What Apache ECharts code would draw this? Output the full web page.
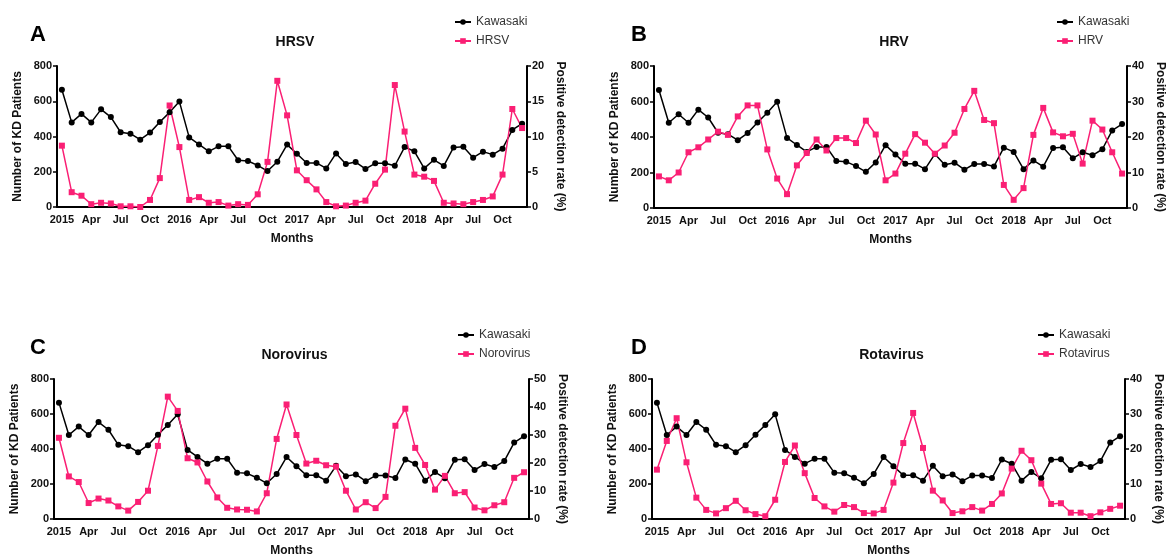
<!DOCTYPE html>
<html lang="en">

<head>
    <meta charset="UTF-8">
    <title>KD vs viruses</title>
    <script src="https://cdn.jsdelivr.net/npm/echarts@6/dist/echarts.min.js"></script>
    <style>
        body,
        html {
            background-color: #fff;
            width: 100%;
            height: 100%;
            margin: 0;
        }
    </style>
</head>

<body>
    <div id="main" style="width: 1167px; height: 558px;"></div>
    <script>
        // x 轴月份
        var years = ['2015', '2016', '2017', '2018'];
        var monthNames = ['Jan', 'Feb', 'Mar', 'Apr', 'May', 'Jun', 'Jul', 'Aug', 'Sep', 'Oct', 'Nov', 'Dec'];
        var months = [];
        years.forEach(function (y) {
            monthNames.forEach(function (m, i) { months.push(i == 0 ? y : m); });
        });

        // 川崎病人数（四个图相同）
        var kawasaki = [665, 480, 528, 480, 554, 510, 424, 416, 382, 422, 482, 537,
            598, 395, 355, 316, 344, 344, 265, 261, 236, 204, 257, 354,
            302, 250, 250, 219, 304, 244, 255, 216, 248, 248, 234, 340,
            316, 219, 268, 233, 338, 342, 280, 314, 297, 331, 437, 473];
        // 阳性检出率 (%)
        var hrsv = [8.7, 2.1, 1.6, 0.4, 0.6, 0.5, 0.1, 0.1, 0.0, 1.0, 4.1, 14.4,
            8.5, 1.0, 1.4, 0.6, 0.7, 0.2, 0.4, 0.3, 1.8, 6.4, 17.9, 13.0,
            5.2, 3.8, 2.5, 0.7, 0.1, 0.2, 0.6, 0.9, 3.3, 5.3, 17.3, 10.7,
            4.6, 4.3, 3.7, 0.6, 0.5, 0.4, 0.7, 1.0, 1.5, 4.6, 13.9, 11.2];
        var hrv = [8.9, 7.8, 10.0, 15.7, 17.1, 19.3, 21.5, 20.6, 25.8, 28.9, 28.9, 16.5,
            8.3, 3.9, 12.0, 15.5, 19.3, 16.2, 19.7, 19.7, 18.3, 24.6, 20.7, 7.8,
            9.7, 15.3, 20.8, 18.4, 15.3, 17.6, 21.2, 27.9, 33.0, 24.8, 23.9, 6.5,
            2.3, 5.6, 20.6, 28.2, 21.3, 20.2, 20.9, 12.5, 24.6, 22.1, 15.7, 9.7];
        var norovirus = [29.0, 15.2, 13.2, 5.7, 7.3, 6.6, 4.5, 3.0, 6.1, 10.1, 26.1, 43.7,
            38.6, 21.7, 20.2, 13.4, 7.7, 4.0, 3.4, 3.3, 2.7, 9.2, 28.6, 40.9,
            30.0, 19.8, 20.8, 19.2, 18.7, 10.1, 3.4, 6.0, 3.9, 7.9, 33.3, 39.4,
            25.4, 19.3, 10.5, 15.4, 9.2, 9.6, 4.1, 3.1, 4.9, 6.0, 14.7, 16.7];
        var rotavirus = [14.1, 22.3, 28.8, 16.2, 6.1, 2.6, 1.6, 3.1, 5.2, 2.5, 1.4, 0.8,
            5.5, 16.3, 21.0, 13.1, 6.0, 3.6, 2.1, 4.0, 3.4, 1.7, 1.6, 2.6,
            10.4, 21.7, 30.3, 20.3, 8.1, 5.3, 1.7, 2.2, 3.4, 2.4, 4.3, 7.3,
            14.4, 19.5, 16.8, 10.1, 4.3, 4.5, 1.8, 1.8, 0.8, 1.9, 2.9, 3.8];

        var pink = '#fa1f74';
        var panels = [
            { letter: 'A', name: 'HRSV', data: hrsv, max: 20, step: 5, grid: { left: 57, top: 66, width: 470, height: 141 }, legend: [454, 15] },
            { letter: 'B', name: 'HRV', data: hrv, max: 40, step: 10, grid: { left: 654, top: 66, width: 474, height: 142 }, legend: [1056, 15] },
            { letter: 'C', name: 'Norovirus', data: norovirus, max: 50, step: 10, grid: { left: 54, top: 379, width: 475, height: 143 }, legend: [457, 328] },
            { letter: 'D', name: 'Rotavirus', data: rotavirus, max: 40, step: 10, grid: { left: 652, top: 379, width: 473, height: 143 }, legend: [1037, 328] }
        ];

        var axisLine = { lineStyle: { color: '#000', width: 2 } };
        var axisTick = { length: 4, lineStyle: { color: '#000', width: 1.5 } };
        var labelFont = { color: '#111', fontWeight: 'bold', fontSize: 11, fontFamily: 'Liberation Sans' };
        var nameFont = { color: '#111', fontWeight: 'bold', fontSize: 12, fontFamily: 'Liberation Sans' };

        var option = { animation: false, grid: [], xAxis: [], yAxis: [], series: [], legend: [], graphic: [] };
        panels.forEach(function (p, i) {
            option.grid.push(p.grid);
            option.xAxis.push({
                type: 'category', gridIndex: i, data: months, boundaryGap: true,
                name: 'Months', nameLocation: 'middle', nameGap: 26, nameTextStyle: nameFont,
                axisLine: axisLine,
                axisTick: Object.assign({ alignWithLabel: true, interval: 2 }, axisTick),
                axisLabel: Object.assign({ interval: 2, margin: 7 }, labelFont)
            });
            option.yAxis.push({
                type: 'value', gridIndex: i, min: 0, max: 800, interval: 200,
                name: 'Number of KD Patients', nameLocation: 'middle', nameGap: 33, nameRotate: 90,
                nameTextStyle: nameFont, splitLine: { show: false },
                axisLine: Object.assign({ show: true }, axisLine),
                axisTick: Object.assign({ show: true }, axisTick),
                axisLabel: Object.assign({ margin: 5 }, labelFont)
            });
            option.yAxis.push({
                type: 'value', gridIndex: i, position: 'right', min: 0, max: p.max, interval: p.step,
                name: 'Positive detection rate (%)', nameLocation: 'middle', nameGap: 27, nameRotate: -90,
                nameTextStyle: nameFont, splitLine: { show: false },
                axisLine: Object.assign({ show: true }, axisLine),
                axisTick: Object.assign({ show: true }, axisTick),
                axisLabel: Object.assign({ margin: 5 }, labelFont)
            });
            option.series.push({
                name: 'Kawasaki', type: 'line', xAxisIndex: i, yAxisIndex: i * 2, data: kawasaki,
                symbol: 'circle', symbolSize: 6, lineStyle: { color: '#000', width: 1.5 },
                itemStyle: { color: '#000' }
            });
            option.series.push({
                name: p.name, type: 'line', xAxisIndex: i, yAxisIndex: i * 2 + 1, data: p.data,
                symbol: 'rect', symbolSize: 6, lineStyle: { color: pink, width: 1.5 },
                itemStyle: { color: pink }
            });
            option.legend.push({
                data: ['Kawasaki', p.name], orient: 'vertical', left: p.legend[0], top: p.legend[1],
                padding: 0, itemWidth: 16, itemHeight: 7, itemGap: 5, selectedMode: false,
                textStyle: { color: '#333', fontSize: 12, lineHeight: 14, fontFamily: 'Liberation Sans' }
            });
            var cx = p.grid.left + p.grid.width / 2;
            option.graphic.push({
                type: 'text', left: i % 2 == 0 ? 30 : 631, top: p.grid.top - 42,
                style: { text: p.letter, font: 'bold 22px "Liberation Sans"', fill: '#000' }
            });
            option.graphic.push({
                type: 'text', x: cx + 3, y: p.grid.top - 24,
                style: { text: p.name, font: 'bold 14px "Liberation Sans"', fill: '#111', textAlign: 'center', textVerticalAlign: 'middle' }
            });
        });

        var myChart = echarts.init(document.getElementById('main'));
        myChart.setOption(option);
    </script>
</body>

</html>
